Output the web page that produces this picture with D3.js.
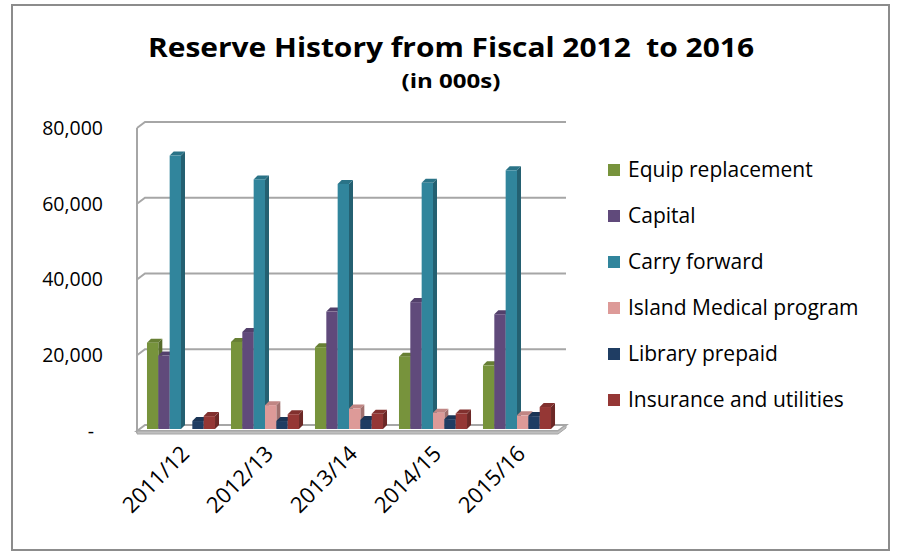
<!DOCTYPE html>
<html>
<head>
<meta charset="utf-8">
<script src="https://cdn.jsdelivr.net/npm/d3@7"></script>
<style>
  html, body { margin: 0; padding: 0; background: #fff; }
  svg { display: block; }
  text { font-family: "Open Sans", Lato, sans-serif; fill: #000; }
</style>
</head>
<body>
<svg id="chart" width="898" height="552"></svg>
<script>
const categories = ["2011/12", "2012/13", "2013/14", "2014/15", "2015/16"];
const seriesNames = ["Equip replacement", "Capital", "Carry forward", "Island Medical program", "Library prepaid", "Insurance and utilities"];
const equipReplacement = [22800, 23000, 21600, 19100, 16800];
const capital = [19400, 25600, 31000, 33500, 30300];
const carryForward = [72200, 65900, 64700, 65000, 68300];
const islandMedical = [0, 6300, 5400, 4300, 3600];
const libraryPrepaid = [2100, 2100, 2400, 2600, 3400];
const insuranceUtilities = [3400, 3900, 4000, 4100, 5800];
const yTicks = [0, 20000, 40000, 60000, 80000];
const colors = ["#77933C", "#604A7B", "#31859C", "#DD9A98", "#1F3D63", "#953735"];

const seriesValues = [equipReplacement, capital, carryForward, islandMedical, libraryPrepaid, insuranceUtilities];
const FONT = "'Open Sans', Lato, sans-serif";

const svg = d3.select("#chart");

// border
svg.append("rect").attr("x", 12).attr("y", 5).attr("width", 877).attr("height", 545)
  .attr("fill", "#fff").attr("stroke", "#8c8c8c").attr("stroke-width", 2);

// title
svg.append("text").attr("x", 451).attr("y", 57).attr("text-anchor", "middle")
  .attr("font-size", 26.5).attr("font-weight", "bold").attr("xml:space", "preserve")
  .attr("textLength", 606).attr("lengthAdjust", "spacingAndGlyphs")
  .text("Reserve History from Fiscal 2012  to 2016");
svg.append("text").attr("x", 451).attr("y", 88).attr("text-anchor", "middle")
  .attr("font-size", 20).attr("font-weight", "bold")
  .attr("textLength", 99).attr("lengthAdjust", "spacingAndGlyphs").text("(in 000s)");

// 3D geometry
const DX = 8, DY = 6; // back-wall offset
const frontLeft = 137;
const y = d3.scaleLinear().domain([0, 80000]).range([431, 128]);       // front (labels)
const yBar = d3.scaleLinear().domain([0, 80000]).range([429, 126]);    // bars
const x0 = d3.scaleBand().domain(categories).range([139, 559]).paddingInner(0.19).paddingOuter(0.095);
const x1 = d3.scaleBand().domain(seriesNames).range([0, x0.bandwidth()]);

const walls = svg.append("g");
walls.append("line").attr("x1", frontLeft).attr("x2", frontLeft)
  .attr("y1", y(80000)).attr("y2", y(0) + 2).attr("stroke", "#a6a6a6").attr("stroke-width", 2);
yTicks.forEach(v => {
  if (v === 0) return;
  walls.append("path")
    .attr("d", `M${frontLeft},${y(v)} L${frontLeft + DX},${y(v) - DY} L${566},${y(v) - DY}`)
    .attr("fill", "none").attr("stroke", "#a6a6a6").attr("stroke-width", 2);
});
walls.append("path")
  .attr("d", `M${frontLeft},${y(0)} L${frontLeft + DX},${y(0) - DY} L566,${y(0) - DY} L${566 - DX},${y(0)} Z`)
  .attr("fill", "#fff").attr("stroke", "#a6a6a6").attr("stroke-width", 2);
walls.append("path")
  .attr("d", `M${frontLeft},${y(0)} L${566 - DX},${y(0)} L566,${y(0) - DY} L566,${y(0) - DY + 3} L${566 - DX},${y(0) + 3} L${frontLeft},${y(0) + 3} Z`)
  .attr("fill", "#bfbfbf").attr("stroke", "#a6a6a6").attr("stroke-width", 1);

// bars
const d = 4;
const base = yBar(0);
const bars = svg.append("g");
categories.forEach((cat, ci) => {
  seriesNames.forEach((s, si) => {
    const v = seriesValues[si][ci];
    if (!v) return;
    const bx = x0(cat) + x1(s);
    const bw = x1.bandwidth();
    const ty = yBar(v);
    const col = d3.color(colors[si]);
    const g = bars.append("g");
    g.append("path")
      .attr("d", `M${bx + bw},${ty} L${bx + bw + d},${ty - d} L${bx + bw + d},${base - d} L${bx + bw},${base} Z`)
      .attr("fill", col.darker(0.9));
    g.append("path")
      .attr("d", `M${bx},${ty} L${bx + d},${ty - d} L${bx + bw + d},${ty - d} L${bx + bw},${ty} Z`)
      .attr("fill", col.darker(0.4));
    g.append("rect").attr("x", bx).attr("y", ty).attr("width", bw).attr("height", base - ty)
      .attr("fill", colors[si]);
  });
});

// y axis labels
const yAxis = svg.append("g").attr("transform", `translate(${frontLeft},0)`)
  .call(d3.axisLeft(y).tickValues(yTicks).tickSize(0).tickPadding(34)
    .tickFormat(v => v === 0 ? "-" : d3.format(",")(v)));
yAxis.select(".domain").remove();
yAxis.selectAll("text").attr("font-size", 19.5).attr("font-family", FONT).attr("fill", "#000")
  .attr("dx", v => v === 0 ? -9 : 0);

// x axis labels
const xAxis = svg.append("g").attr("transform", `translate(-4,${y(0) + 16})`)
  .call(d3.axisBottom(x0).tickSize(0).tickPadding(0));
xAxis.select(".domain").remove();
xAxis.selectAll("text").attr("font-size", 22).attr("font-family", FONT).attr("fill", "#000")
  .attr("text-anchor", "end").attr("dy", "0.7em").attr("x", 4)
  .attr("transform", "rotate(-45)");

// legend
const legend = svg.append("g").attr("transform", "translate(608,170)");
seriesNames.forEach((s, i) => {
  const g = legend.append("g").attr("transform", `translate(0,${i * 46})`);
  g.append("rect").attr("x", 0).attr("y", -6).attr("width", 12).attr("height", 12).attr("fill", colors[i]);
  g.append("text").attr("x", 20).attr("y", 0).attr("dy", "0.35em").attr("font-size", 21).text(s);
});
</script>
</body>
</html>
